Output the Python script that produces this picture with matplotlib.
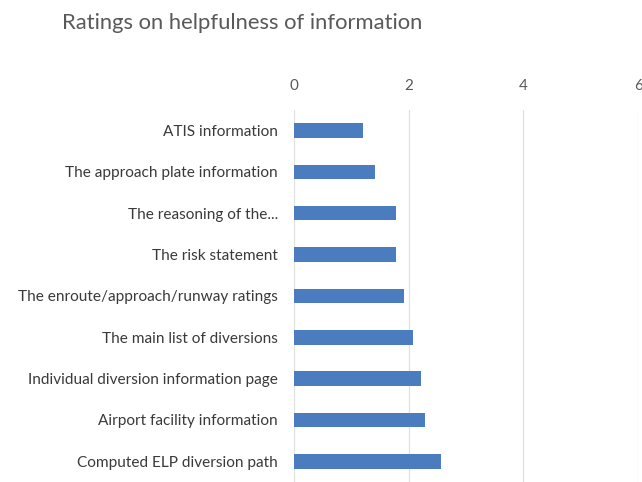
import matplotlib
matplotlib.use("Agg")
import matplotlib.pyplot as plt

# categorias (de arriba hacia abajo) y calificaciones
categorias = [
    "ATIS information",
    "The approach plate information",
    "The reasoning of the...",
    "The risk statement",
    "The enroute/approach/runway ratings",
    "The main list of diversions",
    "Individual diversion information page",
    "Airport facility information",
    "Computed ELP diversion path",
]
valores = [1.21, 1.42, 1.78, 1.78, 1.92, 2.07, 2.21, 2.28, 2.56]
ticks_x = [0, 2, 4, 6]

plt.rcParams["font.family"] = ["Lato", "DejaVu Sans"]
gris = "#595959"

fig = plt.figure(figsize=(6.42, 4.82), dpi=100)
ax = fig.add_axes([0.458, 0.0, 0.536, 0.772])

y = list(range(len(categorias)))
ax.barh(y, valores, height=0.35, color="#4a7cbf", zorder=3)

ax.set_xlim(0, 6)
ax.set_ylim(len(categorias) - 0.5, -0.5)
ax.set_xticks(ticks_x)
ax.set_yticks(y)
ax.set_yticklabels(categorias)
ax.xaxis.tick_top()
ax.tick_params(axis="x", length=0, pad=12, labelsize=11, labelcolor=gris)
ax.tick_params(axis="y", length=0, pad=11.5, labelsize=11.1, labelcolor="#3a3a3a")
ax.grid(axis="x", color="#e0e0e0", linewidth=0.9, zorder=0)
for s in ax.spines.values():
    s.set_visible(False)

fig.text(0.378, 0.952, "Ratings on helpfulness of information",
         ha="center", va="center", fontsize=15.8, color=gris)

fig.savefig("out.png", dpi=100)
